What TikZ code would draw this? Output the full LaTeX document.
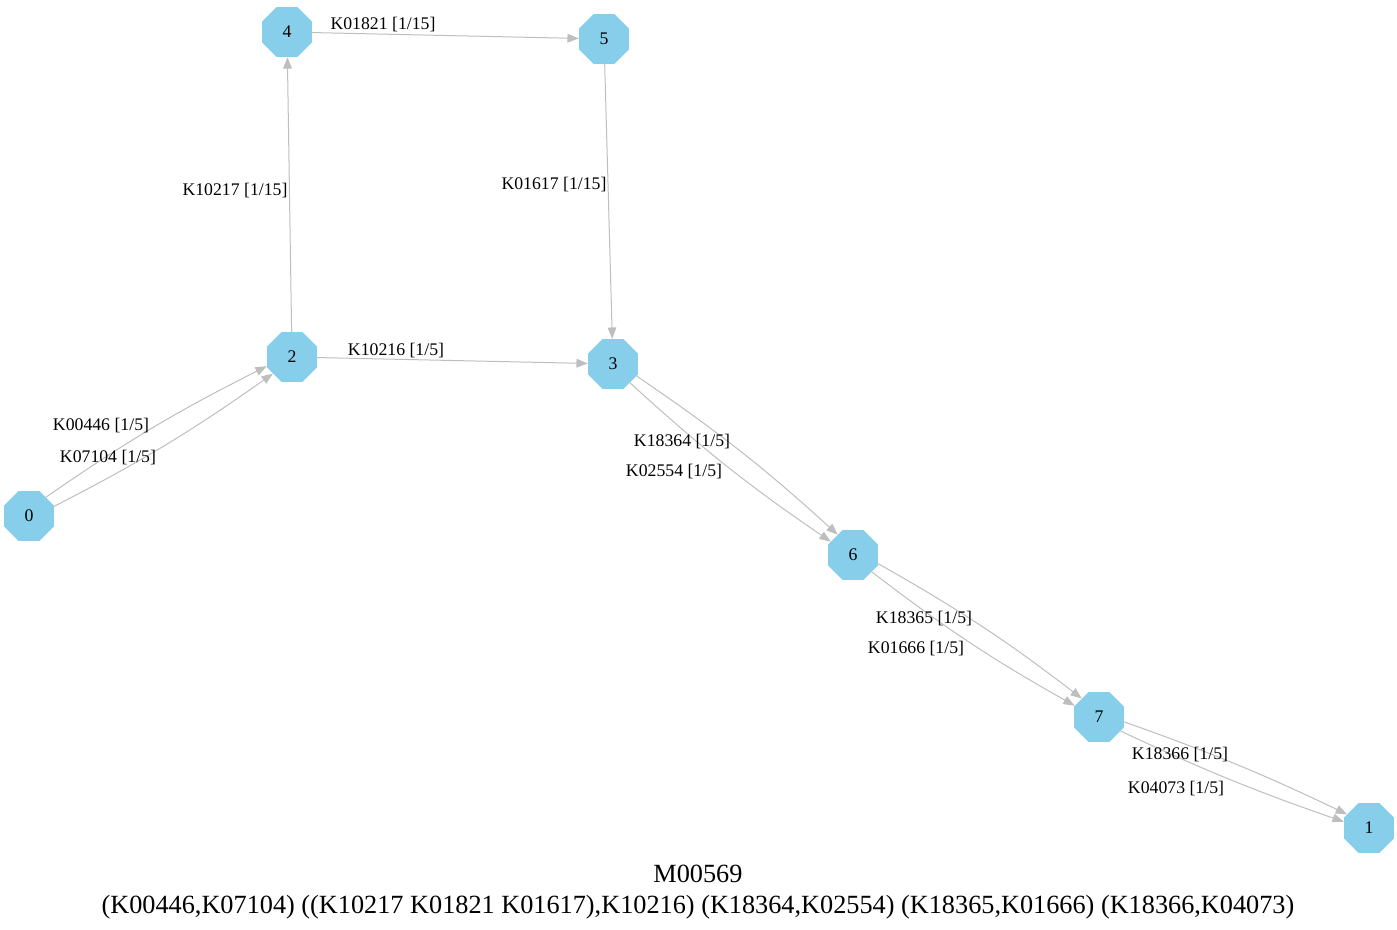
\documentclass[tikz,border=0pt]{standalone}
\usepackage{fontspec}
\setmainfont{Liberation Serif}
\usetikzlibrary{shapes.geometric,arrows.meta}
\definecolor{nodefill}{HTML}{87CEEB}
\definecolor{edgecol}{HTML}{BEBEBE}
\begin{document}
\begin{tikzpicture}[x=0.75pt,y=-0.75pt,
  vert/.style={regular polygon, regular polygon sides=8, fill=nodefill, draw=none,
    minimum size=40.5pt, inner sep=0pt, font=\fontsize{13.3}{15}\selectfont},
  elab/.style={font=\fontsize{13.3}{15}\selectfont, inner sep=0pt},
  conn/.style={draw=edgecol, line width=0.75pt, -{Triangle[length=8.5pt,width=6.5pt]}},
]
\useasboundingbox (0,0) rectangle (1397,929);
% nodes
\node[vert] (n0) at (29,516) {0};
\node[vert] (n1) at (1369,828) {1};
\node[vert] (n2) at (292,357) {2};
\node[vert] (n3) at (613,364) {3};
\node[vert] (n4) at (287,32) {4};
\node[vert] (n5) at (604,39) {5};
\node[vert] (n6) at (853,555) {6};
\node[vert] (n7) at (1099,717) {7};
% edges
\draw[conn] (n0.48) to[bend left=4] (n2.200);
\draw[conn] (n0.21) to[bend right=4] (n2.221);
\draw[conn] (n2) -- (n4);
\draw[conn] (n4) -- (n5);
\draw[conn] (n5) -- (n3);
\draw[conn] (n2) -- (n3);
\draw[conn] (n3.-27) to[bend left=4] (n6.127);
\draw[conn] (n3.-48) to[bend right=4] (n6.149);
\draw[conn] (n6.-19) to[bend left=4] (n7.133);
\draw[conn] (n6.-42) to[bend right=4] (n7.155);
\draw[conn] (n7.-11) to[bend left=3] (n1.148);
\draw[conn] (n7.-33) to[bend right=3] (n1.166);
% edge labels
\node[elab] (l1) at (101,426) {K00446 [1/5]};
\node[elab] (l2) at (108,458) {K07104 [1/5]};
\node[elab] (l3) at (396,351) {K10216 [1/5]};
\node[elab] (l4) at (235,191) {K10217 [1/15]};
\node[elab] (l5) at (383,25) {K01821 [1/15]};
\node[elab] (l6) at (554,185) {K01617 [1/15]};
\node[elab] (l7) at (682,442) {K18364 [1/5]};
\node[elab] (l8) at (674,472) {K02554 [1/5]};
\node[elab] (l9) at (924,619) {K18365 [1/5]};
\node[elab] (l10) at (916,649) {K01666 [1/5]};
\node[elab] (l11) at (1180,755) {K18366 [1/5]};
\node[elab] (l12) at (1176,789) {K04073 [1/5]};
% title
\node[font=\fontsize{19.7}{23}\selectfont, align=center, inner sep=0pt] (title) at (698,892)
  {M00569\\(K00446,K07104) ((K10217 K01821 K01617),K10216) (K18364,K02554) (K18365,K01666) (K18366,K04073)};
\end{tikzpicture}
\end{document}
